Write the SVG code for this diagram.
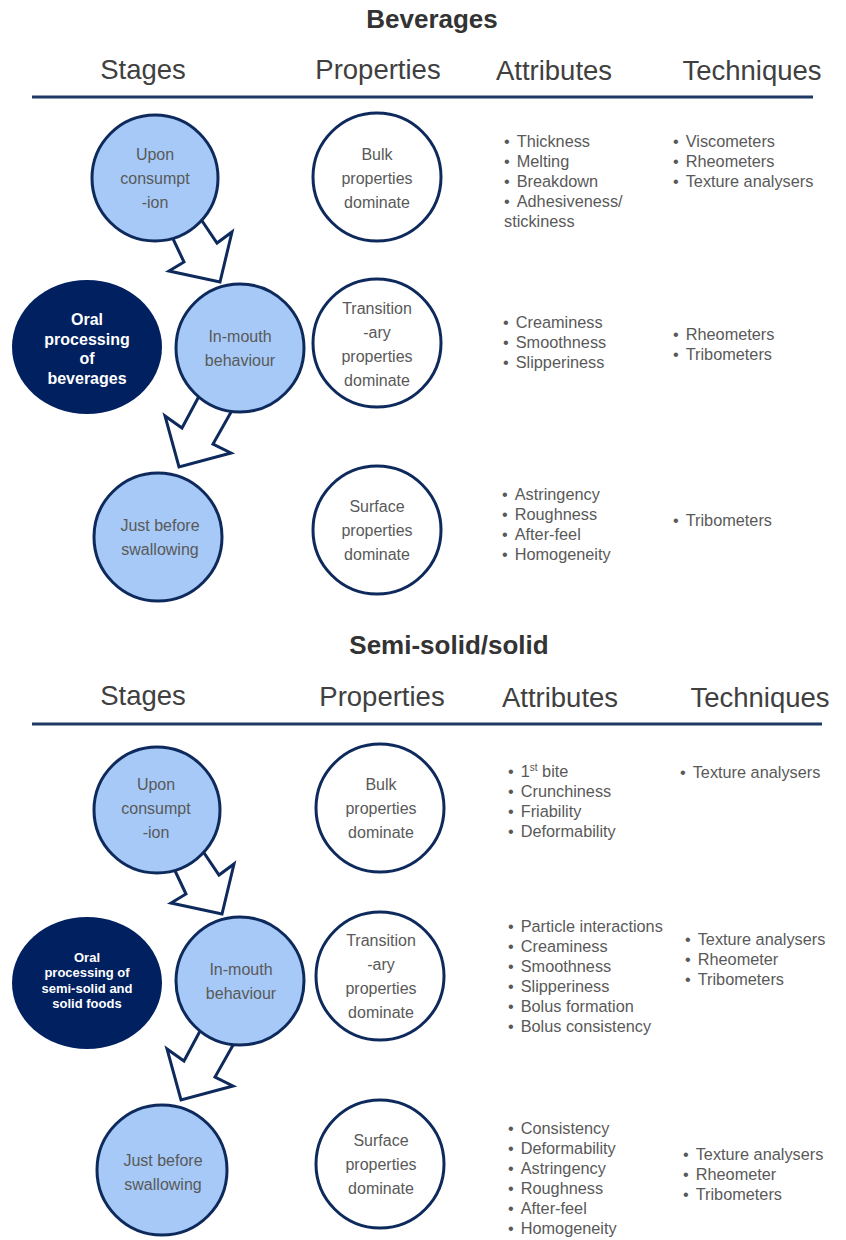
<svg xmlns="http://www.w3.org/2000/svg" width="846" height="1240" viewBox="0 0 846 1240">
<defs>
<style>
.title{font-family:"Liberation Sans",Arial,sans-serif;font-weight:bold;font-size:26px;fill:#333333;text-anchor:middle}
.hdr{font-family:"Liberation Sans",Arial,sans-serif;font-size:27.5px;fill:#404040;text-anchor:middle}
.rule{stroke:#1f3864;stroke-width:3}
.stage{fill:#a6c9f7;stroke:#0e2a5c;stroke-width:3}
.prop{fill:#ffffff;stroke:#0e2a5c;stroke-width:3}
.dark{fill:#002060;stroke:none}
.ct{font-family:"Liberation Sans",Arial,sans-serif;font-size:16px;fill:#595959;text-anchor:middle}
.dt{font-family:"Liberation Sans",Arial,sans-serif;font-weight:bold;font-size:16px;fill:#ffffff;text-anchor:middle}
.dts{font-family:"Liberation Sans",Arial,sans-serif;font-weight:bold;font-size:13px;fill:#ffffff;text-anchor:middle}
.lt{font-family:"Liberation Sans",Arial,sans-serif;font-size:16.3px;fill:#595959}
.arrow{fill:#ffffff;stroke:#0e2a5c;stroke-width:3;stroke-linejoin:miter}
</style>
</defs>
<rect width="846" height="1240" fill="#ffffff"/>

<!-- Beverages headers -->
<text class="title" x="432" y="28">Beverages</text>
<text class="hdr" x="143" y="79">Stages</text>
<text class="hdr" x="378" y="79">Properties</text>
<text class="hdr" x="554" y="80">Attributes</text>
<text class="hdr" x="752" y="80">Techniques</text>
<line class="rule" x1="32" y1="97" x2="813" y2="97"/>

<!-- Semi-solid headers -->
<text class="title" x="449" y="654">Semi-solid/solid</text>
<text class="hdr" x="143" y="705">Stages</text>
<text class="hdr" x="382" y="706">Properties</text>
<text class="hdr" x="560" y="707">Attributes</text>
<text class="hdr" x="760" y="707">Techniques</text>
<line class="rule" x1="32" y1="724" x2="822" y2="724"/>

<g id="connectors">
<polygon class="arrow" points="166,224 184,262 169,271 220,282 232,232 217,243 194,209"/>
<polygon class="arrow" points="205,385 182,428 165,416 179,467 231,453 213,444 239,398"/>
<polygon class="arrow" points="168,856 186,894 171,903 222,914 234,864 219,875 196,841"/>
<polygon class="arrow" points="207,1018 184,1061 167,1049 181,1100 233,1086 215,1077 241,1031"/>
</g>

<!-- Beverages nodes -->
<g id="bev-upon">
<circle class="stage" cx="155" cy="178" r="63"/>
<text class="ct" x="155" y="160">Upon</text>
<text class="ct" x="155" y="184">consumpt</text>
<text class="ct" x="155" y="208">-ion</text>
</g>
<g id="bev-inmouth">
<circle class="stage" cx="240" cy="348" r="64"/>
<text class="ct" x="240" y="342">In-mouth</text>
<text class="ct" x="240" y="366">behaviour</text>
</g>
<g id="bev-oral">
<ellipse class="dark" cx="87" cy="347" rx="75" ry="67"/>
<text class="dt" x="87" y="325">Oral</text>
<text class="dt" x="87" y="345">processing</text>
<text class="dt" x="87" y="364">of</text>
<text class="dt" x="87" y="384">beverages</text>
</g>
<g id="bev-before">
<circle class="stage" cx="158" cy="537" r="64"/>
<text class="ct" x="160" y="531">Just before</text>
<text class="ct" x="160" y="555">swallowing</text>
</g>
<g id="bev-bulk">
<circle class="prop" cx="377" cy="177" r="64"/>
<text class="ct" x="377" y="160">Bulk</text>
<text class="ct" x="377" y="184">properties</text>
<text class="ct" x="377" y="208">dominate</text>
</g>
<g id="bev-transition">
<circle class="prop" cx="377" cy="343" r="64"/>
<text class="ct" x="377" y="314">Transition</text>
<text class="ct" x="377" y="338">-ary</text>
<text class="ct" x="377" y="362">properties</text>
<text class="ct" x="377" y="386">dominate</text>
</g>
<g id="bev-surface">
<circle class="prop" cx="377" cy="530" r="64"/>
<text class="ct" x="377" y="512">Surface</text>
<text class="ct" x="377" y="536">properties</text>
<text class="ct" x="377" y="560">dominate</text>
</g>

<g id="bev-attr-bulk">
<text class="lt" x="504" y="147">•<tspan dx="7">Thickness</tspan></text>
<text class="lt" x="504" y="167">•<tspan dx="7">Melting</tspan></text>
<text class="lt" x="504" y="187">•<tspan dx="7">Breakdown</tspan></text>
<text class="lt" x="504" y="207">•<tspan dx="7">Adhesiveness/</tspan></text>
<text class="lt" x="504" y="227">stickiness</text>
</g>
<g id="bev-tech-bulk">
<text class="lt" x="673" y="147">•<tspan dx="7">Viscometers</tspan></text>
<text class="lt" x="673" y="167">•<tspan dx="7">Rheometers</tspan></text>
<text class="lt" x="673" y="187">•<tspan dx="7">Texture analysers</tspan></text>
</g>
<g id="bev-attr-trans">
<text class="lt" x="503" y="328">•<tspan dx="7">Creaminess</tspan></text>
<text class="lt" x="503" y="348">•<tspan dx="7">Smoothness</tspan></text>
<text class="lt" x="503" y="368">•<tspan dx="7">Slipperiness</tspan></text>
</g>
<g id="bev-tech-trans">
<text class="lt" x="673" y="340">•<tspan dx="7">Rheometers</tspan></text>
<text class="lt" x="673" y="360">•<tspan dx="7">Tribometers</tspan></text>
</g>
<g id="bev-attr-surf">
<text class="lt" x="502" y="500">•<tspan dx="7">Astringency</tspan></text>
<text class="lt" x="502" y="520">•<tspan dx="7">Roughness</tspan></text>
<text class="lt" x="502" y="540">•<tspan dx="7">After-feel</tspan></text>
<text class="lt" x="502" y="560">•<tspan dx="7">Homogeneity</tspan></text>
</g>
<g id="bev-tech-surf">
<text class="lt" x="673" y="526">•<tspan dx="7">Tribometers</tspan></text>
</g>

<!-- Semi-solid nodes -->
<g id="ss-upon">
<circle class="stage" cx="157" cy="810" r="63"/>
<text class="ct" x="156" y="790">Upon</text>
<text class="ct" x="156" y="814">consumpt</text>
<text class="ct" x="156" y="838">-ion</text>
</g>
<g id="ss-inmouth">
<circle class="stage" cx="240" cy="981" r="64"/>
<text class="ct" x="241" y="975">In-mouth</text>
<text class="ct" x="241" y="999">behaviour</text>
</g>
<g id="ss-oral">
<ellipse class="dark" cx="87" cy="983" rx="75" ry="66"/>
<text class="dts" x="87" y="962">Oral</text>
<text class="dts" x="87" y="977">processing of</text>
<text class="dts" x="87" y="993">semi-solid and</text>
<text class="dts" x="87" y="1008">solid foods</text>
</g>
<g id="ss-before">
<circle class="stage" cx="162" cy="1170" r="65"/>
<text class="ct" x="163" y="1166">Just before</text>
<text class="ct" x="163" y="1190">swallowing</text>
</g>
<g id="ss-bulk">
<circle class="prop" cx="380" cy="808" r="64"/>
<text class="ct" x="381" y="790">Bulk</text>
<text class="ct" x="381" y="814">properties</text>
<text class="ct" x="381" y="838">dominate</text>
</g>
<g id="ss-transition">
<circle class="prop" cx="380" cy="976" r="64"/>
<text class="ct" x="381" y="946">Transition</text>
<text class="ct" x="381" y="970">-ary</text>
<text class="ct" x="381" y="994">properties</text>
<text class="ct" x="381" y="1018">dominate</text>
</g>
<g id="ss-surface">
<circle class="prop" cx="380" cy="1164" r="64"/>
<text class="ct" x="381" y="1146">Surface</text>
<text class="ct" x="381" y="1170">properties</text>
<text class="ct" x="381" y="1194">dominate</text>
</g>

<g id="ss-attr-bulk">
<text class="lt" x="508" y="777">•<tspan dx="7">1</tspan><tspan font-size="10" dy="-6">st</tspan><tspan dy="6"> bite</tspan></text>
<text class="lt" x="508" y="797">•<tspan dx="7">Crunchiness</tspan></text>
<text class="lt" x="508" y="817">•<tspan dx="7">Friability</tspan></text>
<text class="lt" x="508" y="837">•<tspan dx="7">Deformability</tspan></text>
</g>
<g id="ss-tech-bulk">
<text class="lt" x="680" y="778">•<tspan dx="7">Texture analysers</tspan></text>
</g>
<g id="ss-attr-trans">
<text class="lt" x="508" y="932">•<tspan dx="7">Particle interactions</tspan></text>
<text class="lt" x="508" y="952">•<tspan dx="7">Creaminess</tspan></text>
<text class="lt" x="508" y="972">•<tspan dx="7">Smoothness</tspan></text>
<text class="lt" x="508" y="992">•<tspan dx="7">Slipperiness</tspan></text>
<text class="lt" x="508" y="1012">•<tspan dx="7">Bolus formation</tspan></text>
<text class="lt" x="508" y="1032">•<tspan dx="7">Bolus consistency</tspan></text>
</g>
<g id="ss-tech-trans">
<text class="lt" x="685" y="945">•<tspan dx="7">Texture analysers</tspan></text>
<text class="lt" x="685" y="965">•<tspan dx="7">Rheometer</tspan></text>
<text class="lt" x="685" y="985">•<tspan dx="7">Tribometers</tspan></text>
</g>
<g id="ss-attr-surf">
<text class="lt" x="508" y="1134">•<tspan dx="7">Consistency</tspan></text>
<text class="lt" x="508" y="1154">•<tspan dx="7">Deformability</tspan></text>
<text class="lt" x="508" y="1174">•<tspan dx="7">Astringency</tspan></text>
<text class="lt" x="508" y="1194">•<tspan dx="7">Roughness</tspan></text>
<text class="lt" x="508" y="1214">•<tspan dx="7">After-feel</tspan></text>
<text class="lt" x="508" y="1234">•<tspan dx="7">Homogeneity</tspan></text>
</g>
<g id="ss-tech-surf">
<text class="lt" x="683" y="1160">•<tspan dx="7">Texture analysers</tspan></text>
<text class="lt" x="683" y="1180">•<tspan dx="7">Rheometer</tspan></text>
<text class="lt" x="683" y="1200">•<tspan dx="7">Tribometers</tspan></text>
</g>
</svg>
